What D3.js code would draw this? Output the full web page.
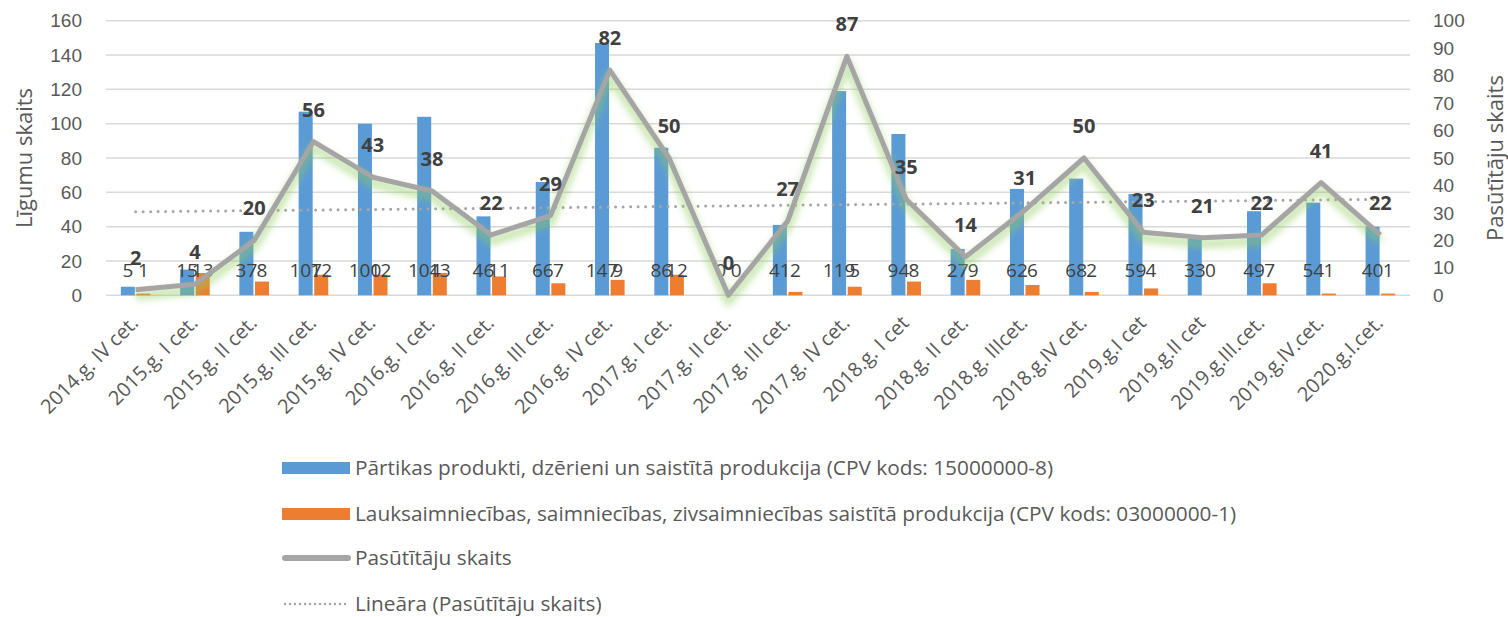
<!DOCTYPE html>
<html>
<head>
<meta charset="utf-8">
<script src="https://cdn.jsdelivr.net/npm/d3@7"></script>
<style>
  body { margin: 0; background: #fff; }
  svg { display: block; font-family: 'Open Sans', 'Noto Sans', sans-serif; }
</style>
</head>
<body>
<svg id="chart" width="1508" height="617"></svg>
<script>
const categories = [
  '2014.g. IV cet.', '2015.g. I cet.', '2015.g. II cet.', '2015.g. III cet.', '2015.g. IV cet.',
  '2016.g. I cet.', '2016.g. II cet.', '2016.g. III cet.', '2016.g. IV cet.', '2017.g. I cet.',
  '2017.g. II cet.', '2017.g. III cet.', '2017.g. IV cet.', '2018.g. I cet', '2018.g. II cet.',
  '2018.g. IIIcet.', '2018.g.IV cet.', '2019.g.I cet', '2019.g.II cet', '2019.g.III.cet.',
  '2019.g.IV.cet.', '2020.g.I.cet.'
]
const foodContracts = [5, 15, 37, 107, 100, 104, 46, 66, 147, 86, 0, 41, 119, 94, 27, 62, 68, 59, 33, 49, 54, 40]
const agriContracts = [1, 13, 8, 12, 12, 13, 11, 7, 9, 12, 0, 2, 5, 8, 9, 6, 2, 4, 0, 7, 1, 1]
const customers = [2, 4, 20, 56, 43, 38, 22, 29, 82, 50, 0, 27, 87, 35, 14, 31, 50, 23, 21, 22, 41, 22]
const leftTicks = [0, 20, 40, 60, 80, 100, 120, 140, 160]
const rightTicks = [0, 10, 20, 30, 40, 50, 60, 70, 80, 90, 100]

const legendItems = [
  { label: 'Pārtikas produkti, dzērieni un saistītā produkcija (CPV kods: 15000000-8)', type: 'bar', color: '#5b9bd5' },
  { label: 'Lauksaimniecības, saimniecības, zivsaimniecības saistītā produkcija (CPV kods: 03000000-1)', type: 'bar', color: '#ed7d31' },
  { label: 'Pasūtītāju skaits', type: 'line' },
  { label: 'Lineāra (Pasūtītāju skaits)', type: 'dots' }
]

const plot = { left: 106, right: 1410, top: 20.7, bottom: 295.3 }
const textColor = '#595959'
const labelColor = '#404040'

const svg = d3.select('#chart')

const x = d3.scaleBand().domain(categories).range([plot.left, plot.right])
const xSub = d3.scaleBand().domain(['food', 'agri']).range([-14.8, 14.8]).paddingInner(0.1)
const yLeft = d3.scaleLinear().domain([0, 160]).range([plot.bottom, plot.top])
const yRight = d3.scaleLinear().domain([0, 100]).range([plot.bottom, plot.top])
const cx = (d) => x(d) + x.bandwidth() / 2

// soft glow under the customers line
const defs = svg.append('defs')
defs.append('filter')
  .attr('id', 'glow')
  .attr('x', '-10%').attr('y', '-10%').attr('width', '120%').attr('height', '130%')
  .append('feGaussianBlur')
  .attr('stdDeviation', 3)

// gridlines
svg.append('g')
  .selectAll('line')
  .data(leftTicks)
  .join('line')
  .attr('x1', plot.left)
  .attr('x2', plot.right)
  .attr('y1', (d) => yLeft(d))
  .attr('y2', (d) => yLeft(d))
  .attr('stroke', '#d9d9d9')
  .attr('stroke-width', 1.5)

// axes
const leftAxis = svg.append('g')
  .attr('transform', `translate(${plot.left - 24},0)`)
  .call(d3.axisLeft(yLeft).tickValues(leftTicks).tickSize(0).tickPadding(0))
leftAxis.select('.domain').remove()
leftAxis.selectAll('text').attr('fill', textColor).style('font-size', '19px')

const rightAxis = svg.append('g')
  .attr('transform', `translate(${plot.right + 23},0)`)
  .call(d3.axisRight(yRight).tickValues(rightTicks).tickSize(0).tickPadding(0))
rightAxis.select('.domain').remove()
rightAxis.selectAll('text').attr('fill', textColor).style('font-size', '19px')

svg.append('text')
  .attr('transform', `translate(32,${(plot.top + plot.bottom) / 2}) rotate(-90)`)
  .attr('text-anchor', 'middle')
  .attr('fill', textColor)
  .style('font-size', '22px')
  .text('Līgumu skaits')

svg.append('text')
  .attr('transform', `translate(1503,${(plot.top + plot.bottom) / 2}) rotate(-90)`)
  .attr('text-anchor', 'middle')
  .attr('fill', textColor)
  .style('font-size', '22px')
  .text('Pasūtītāju skaits')

// category labels
svg.append('g')
  .selectAll('text')
  .data(categories)
  .join('text')
  .attr('transform', (d) => `translate(${cx(d) - 1},${plot.bottom + 24}) rotate(-45)`)
  .attr('text-anchor', 'end')
  .attr('dy', '0.35em')
  .attr('fill', textColor)
  .style('font-size', '20px')
  .text((d) => d)

// bars
const barData = categories.map((c, i) => ({ c, food: foodContracts[i], agri: agriContracts[i] }))
const groups = svg.append('g')
  .selectAll('g')
  .data(barData)
  .join('g')
  .attr('transform', (d) => `translate(${cx(d.c)},0)`)

groups.append('rect')
  .attr('x', xSub('food'))
  .attr('width', xSub.bandwidth())
  .attr('y', (d) => yLeft(d.food))
  .attr('height', (d) => yLeft(0) - yLeft(d.food))
  .attr('fill', '#5b9bd5')

groups.append('rect')
  .attr('x', xSub('agri'))
  .attr('width', xSub.bandwidth())
  .attr('y', (d) => yLeft(d.agri))
  .attr('height', (d) => yLeft(0) - yLeft(d.agri))
  .attr('fill', '#ed7d31')

// linear trend of customers
const n = customers.length
const meanX = (n - 1) / 2
const meanY = d3.mean(customers)
const slope = d3.sum(customers, (v, i) => (i - meanX) * (v - meanY)) / d3.sum(customers, (v, i) => (i - meanX) ** 2)
const trend = categories.map((c, i) => ({ c, v: meanY + slope * (i - meanX) }))

svg.append('path')
  .datum(trend)
  .attr('fill', 'none')
  .attr('stroke', '#a5a5a5')
  .attr('stroke-width', 3)
  .attr('stroke-linecap', 'round')
  .attr('stroke-dasharray', '0 7.5')
  .attr('d', d3.line().x((d) => cx(d.c)).y((d) => yRight(d.v)))

// customers line
const lineData = categories.map((c, i) => ({ c, v: customers[i] }))
const line = d3.line().x((d) => cx(d.c)).y((d) => yRight(d.v))

svg.append('path')
  .datum(lineData)
  .attr('fill', 'none')
  .attr('stroke', '#8fce5a')
  .attr('stroke-opacity', 0.42)
  .attr('stroke-width', 10)
  .attr('stroke-linejoin', 'round')
  .attr('transform', 'translate(0,6)')
  .attr('filter', 'url(#glow)')
  .attr('d', line)

svg.append('path')
  .datum(lineData)
  .attr('fill', 'none')
  .attr('stroke', '#a5a5a5')
  .attr('stroke-width', 5)
  .attr('stroke-linejoin', 'round')
  .attr('d', line)

// bar value labels
groups.append('text')
  .attr('x', xSub('food') + xSub.bandwidth() / 2)
  .attr('y', 270)
  .attr('dy', '0.35em')
  .attr('text-anchor', 'middle')
  .attr('fill', labelColor)
  .style('font-size', '19px')
  .text((d) => d.food)

groups.append('text')
  .attr('x', xSub('agri') + xSub.bandwidth() / 2)
  .attr('y', 270)
  .attr('dy', '0.35em')
  .attr('text-anchor', 'middle')
  .attr('fill', labelColor)
  .style('font-size', '19px')
  .text((d) => d.agri)

// customers value labels
svg.append('g')
  .selectAll('text')
  .data(lineData)
  .join('text')
  .attr('x', (d) => cx(d.c))
  .attr('y', (d) => yRight(d.v) - 32)
  .attr('dy', '0.35em')
  .attr('text-anchor', 'middle')
  .attr('fill', labelColor)
  .style('font-size', '20px')
  .style('font-weight', 'bold')
  .text((d) => d.v)

// legend
const legend = svg.append('g')
  .selectAll('g')
  .data(legendItems)
  .join('g')
  .attr('transform', (d, i) => `translate(282,${[468, 514, 558, 604][i]})`)

legend.filter((d) => d.type === 'bar')
  .append('rect')
  .attr('x', 0).attr('y', -6)
  .attr('width', 68).attr('height', 12)
  .attr('fill', (d) => d.color)

legend.filter((d) => d.type === 'line')
  .append('line')
  .attr('x1', 3).attr('x2', 66)
  .attr('stroke', '#a5a5a5')
  .attr('stroke-width', 6)
  .attr('stroke-linecap', 'round')

legend.filter((d) => d.type === 'dots')
  .append('line')
  .attr('x1', 3).attr('x2', 66)
  .attr('stroke', '#a5a5a5')
  .attr('stroke-width', 2.5)
  .attr('stroke-linecap', 'round')
  .attr('stroke-dasharray', '0 5')

legend.append('text')
  .attr('x', 73)
  .attr('dy', '0.35em')
  .attr('fill', textColor)
  .style('font-size', '20.8px')
  .text((d) => d.label)
</script>
</body>
</html>
